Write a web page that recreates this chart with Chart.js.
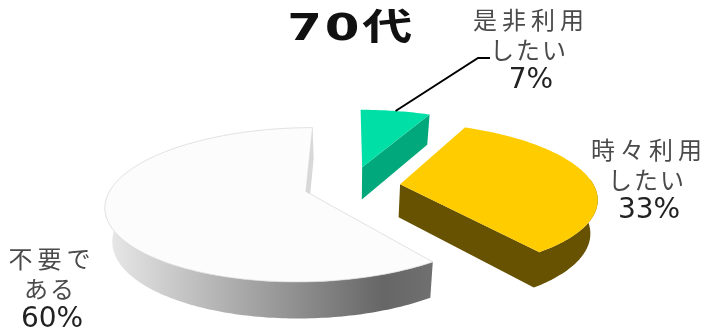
<!DOCTYPE html>
<html lang="ja">
<head>
<meta charset="utf-8">
<title>70代</title>
<script src="https://cdn.jsdelivr.net/npm/chart.js@4/dist/chart.umd.min.js"></script>
<style>
  html, body { margin: 0; padding: 0; background: #fff; }
  #wrap { position: relative; width: 705px; height: 330px; overflow: hidden; }
</style>
</head>
<body>
<div id="wrap"><canvas id="pie" width="705" height="330"></canvas></div>
<script>
// Survey shares for one age group
const heading = '70代';
const categories = ['是非利用したい', '時々利用したい', '不要である'];
const shares = [7, 33, 60];
const labelLines = [['是非利用', 'したい'], ['時々利用', 'したい'], ['不要で', 'ある']];

// Face colours per slice
const topColors = ['#00E0A6', '#FFCC00', '#FCFCFC'];
const wallColors = ['#00A87C', '#665200', '#D8D8D8'];

// Tilted-disc projection used for the 3D look
const view = { cx: 351, cy: 186, rx: 194, ry: 73, k: 0.17, depth: 33, shrink: 0.97 };
const sliceOffsets = [40, 37, 35];
const labelSpots = [[531, 20], [649, 150], [52, 259]];
const leaderElbow = [[478, 58], [490, 58]];

// Maps a point on the unit disc (h = 0 top face, h = 1 bottom face) to the canvas
function project(X, Y, h) {
  const w = 1 / (1 - view.k * Y);
  let sx = view.cx + view.rx * X * w;
  let sy = view.cy + view.ry * Y * w;
  if (h) {
    sx = view.cx + (sx - view.cx) * view.shrink;
    sy += view.depth * Math.sqrt(w);
  }
  return [sx, sy];
}

// Outline helpers built on the angles and radius Chart.js computed for each arc
function sliceGeometry(arc) {
  const p = arc.getProps(['startAngle', 'endAngle', 'outerRadius']);
  const mid = (p.startAngle + p.endAngle) / 2;
  const d = arc.options.offset / p.outerRadius;
  const ox = Math.cos(mid) * d, oy = Math.sin(mid) * d;
  const rimAt = (a, h) => project(ox + Math.cos(a), oy + Math.sin(a), h);
  const apex = h => project(ox, oy, h);
  const steps = Math.ceil((p.endAngle - p.startAngle) / (Math.PI / 180));
  const angles = [];
  for (let i = 0; i <= steps; i++) {
    angles.push(p.startAngle + (p.endAngle - p.startAngle) * i / steps);
  }
  const rim = h => angles.map(a => rimAt(a, h));
  // only the part of the rim that faces the viewer gets a visible wall
  const frontAngles = angles.filter(a => Math.sin(a) > -0.08);
  const frontRim = h => frontAngles.map(a => rimAt(a, h));
  return { rimAt, apex, rim, frontRim, mid, start: p.startAngle, end: p.endAngle };
}

function fillPoly(ctx, pts, fill) {
  ctx.beginPath();
  pts.forEach((q, i) => (i ? ctx.lineTo(q[0], q[1]) : ctx.moveTo(q[0], q[1])));
  ctx.closePath();
  ctx.fillStyle = fill;
  ctx.fill();
}

const solidPie = {
  id: 'solidPie',
  beforeDatasetDraw(chart, args) {
    const ctx = chart.ctx;
    const arcs = chart.getDatasetMeta(args.index).data;
    // back slice first, then the two front ones
    [0, 2, 1].forEach(i => {
      const g = sliceGeometry(arcs[i]);
      const a0 = g.apex(0), a1 = g.apex(1);
      const end0 = g.rimAt(g.end, 0), end1 = g.rimAt(g.end, 1);
      if (i === 2) {
        // large slice: shaded rim, plus the cut face seen at the far edge
        const shade = ctx.createLinearGradient(108, 0, 432, 0);
        shade.addColorStop(0, '#E8E8E8');
        shade.addColorStop(0.85, '#666666');
        shade.addColorStop(1, '#707070');
        fillPoly(ctx, g.frontRim(0).concat(g.frontRim(1).reverse()), shade);
        fillPoly(ctx, [a0, end0, end1, a1], wallColors[i]);
      } else {
        // one outline for rim and cut face, so no seam shows between them
        fillPoly(ctx, g.frontRim(0).concat([end0, a0, a1, end1], g.frontRim(1).reverse()), wallColors[i]);
      }
      fillPoly(ctx, [a0].concat(g.rim(0)), topColors[i]);
      if (i === 2) {
        ctx.strokeStyle = '#CFCFCF';
        ctx.lineWidth = 0.6;
        ctx.stroke();
      }
    });
    return false;
  },
  afterDraw(chart) {
    const ctx = chart.ctx;
    const arcs = chart.getDatasetMeta(0).data;

    // leader from the small slice to its label
    const g = sliceGeometry(arcs[0]);
    const from = g.rimAt(g.mid, 0);
    ctx.beginPath();
    ctx.moveTo(from[0], from[1]);
    leaderElbow.forEach(q => ctx.lineTo(q[0], q[1]));
    ctx.strokeStyle = '#000';
    ctx.lineWidth = 2;
    ctx.stroke();

    // slice labels: name lines, then the share
    ctx.textAlign = 'center';
    ctx.textBaseline = 'middle';
    shares.forEach((v, i) => {
      const [lx, ly] = labelSpots[i];
      ctx.font = '24px "Noto Sans CJK JP"';
      ctx.fillStyle = '#4A4A4A';
      labelLines[i].forEach((t, n) => {
        ctx.letterSpacing = n === 0 ? '5px' : '2px';
        ctx.fillText(t, n === 0 ? lx : lx - 2, ly + n * 30);
      });
      ctx.letterSpacing = '0px';
      ctx.font = '28px "DejaVu Sans"';
      ctx.fillStyle = '#222';
      ctx.fillText(v + '%', lx, ly + labelLines[i].length * 30.5);
    });

    // heading, widened horizontally
    ctx.save();
    ctx.translate(351, 30);
    ctx.scale(1.35, 1);
    ctx.letterSpacing = '2px';
    ctx.font = 'bold 37px "DejaVu Sans", "Noto Sans CJK JP"';
    ctx.fillStyle = '#111';
    ctx.fillText(heading, 0, 0);
    ctx.restore();
  }
};

new Chart(document.getElementById('pie'), {
  type: 'pie',
  data: {
    labels: categories,
    datasets: [{ data: shares, backgroundColor: topColors, borderWidth: 0, offset: sliceOffsets }]
  },
  options: {
    responsive: false,
    animation: false,
    rotation: 0,
    plugins: { legend: { display: false }, tooltip: { enabled: false }, title: { display: false } }
  },
  plugins: [solidPie]
});
</script>
</body>
</html>
